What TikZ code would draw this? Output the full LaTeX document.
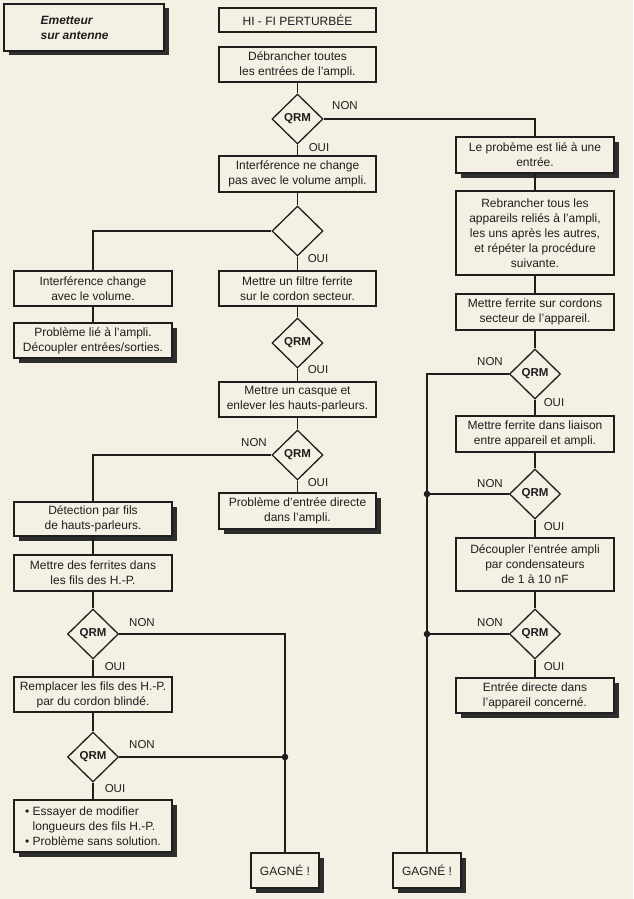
\documentclass[tikz,border=0pt]{standalone}
\usepackage{fontspec}
\setmainfont[Ligatures=TeX]{Liberation Sans}
\usetikzlibrary{shapes.geometric,shadows}
\definecolor{bg}{HTML}{F4F1E4}
\definecolor{ink}{HTML}{1E1E1E}
\definecolor{shd}{HTML}{2E2E2E}
\begin{document}
\begin{tikzpicture}[x=1pt,y=-1pt,line width=1.3pt,
  box/.style={draw=ink, fill=bg, line width=1.3pt, inner sep=0pt, align=center,
    font=\fontsize{12}{15}\selectfont, text=ink},
  mainbox/.style={box, minimum width=157pt},
  sidebox/.style={box, minimum width=158pt},
  shad/.style={drop shadow={shadow xshift=4.5pt, shadow yshift=-4.5pt, fill=shd, opacity=1}},
  dia/.style={diamond, draw=ink, fill=bg, line width=1.3pt, minimum width=51pt,
    minimum height=50pt, inner sep=0pt, text=ink, font=\bfseries\fontsize{11.5}{13}\selectfont},
  lbl/.style={font=\fontsize{11.5}{13}\selectfont, text=ink, inner sep=0pt},
  dot/.style={circle, fill=ink, inner sep=0pt, minimum size=6.6pt}]
\fill[bg] (0,0) rectangle (633,899);
\useasboundingbox (0,0) rectangle (633,899);

% title box
\node[box, shad, minimum width=160pt, minimum height=47pt] (emet) at (84,27.5) {};
\node[anchor=west, align=left, inner sep=0pt, text=ink,
  font=\bfseries\itshape\fontsize{12}{15}\selectfont] (emett) at (40,28)
  {Emetteur\\sur antenne};

% main column
\node[mainbox, minimum height=24pt] (hifi) at (297.5,20) {HI - FI PERTURBÉE};
\node[mainbox, minimum height=35pt] (debr) at (297.5,64.5) {Débrancher toutes\\les entrées de l'ampli.};
\node[dia] (q1) at (297.5,119) {QRM};
\node[mainbox, minimum height=36pt] (interf1) at (297.5,174) {Interférence ne change\\pas avec le volume ampli.};
\node[dia] (d2) at (297.5,231) {};
\node[mainbox, minimum height=35pt] (filtre) at (297.5,288.5) {Mettre un filtre ferrite\\sur le cordon secteur.};
\node[dia] (q3) at (297.5,343) {QRM};
\node[mainbox, minimum height=35pt] (casque) at (297.5,399.5) {Mettre un casque et\\enlever les hauts-parleurs.};
\node[dia] (q4) at (297.5,455) {QRM};
\node[mainbox, shad, minimum height=36pt] (probd) at (297.5,511) {Problème d'entrée directe\\dans l'ampli.};

% left column
\node[sidebox, minimum height=35pt] (interf2) at (93,288.5) {Interférence change\\avec le volume.};
\node[sidebox, shad, minimum height=35pt] (prob1) at (93,340.5) {Problème lié à l'ampli.\\Découpler entrées/sorties.};
\node[sidebox, shad, minimum height=34pt] (detect) at (93,519) {Détection par fils\\de hauts-parleurs.};
\node[sidebox, minimum height=36pt] (ferr) at (93,573) {Mettre des ferrites dans\\les fils des H.-P.};
\node[dia] (q5) at (93,634) {QRM};
\node[sidebox, minimum height=35pt] (rempl) at (93,694.5) {Remplacer les fils des H.-P.\\par du cordon blindé.};
\node[dia] (q6) at (93,757) {QRM};
\node[sidebox, shad, minimum height=52pt, align=left] (bullet) at (93,826)
  {\textbullet\ Essayer de modifier\\\phantom{\textbullet\ }longueurs des fils H.-P.\\\textbullet\ Problème sans solution.};
\node[box, shad, minimum width=68pt, minimum height=35pt] (g1) at (285,870.5) {GAGNÉ !};
\node[box, shad, minimum width=68pt, minimum height=35pt] (g2) at (427,870.5) {GAGNÉ !};

% right column
\node[sidebox, shad, minimum height=36pt] (leprob) at (535,155) {Le probème est lié à une\\entrée.};
\node[sidebox, minimum height=84pt] (rebr) at (535,233) {Rebrancher tous les\\appareils reliés à l'ampli,\\les uns après les autres,\\et répéter la procédure\\suivante.};
\node[sidebox, minimum height=36pt] (cordons) at (535,312) {Mettre ferrite sur cordons\\secteur de l'appareil.};
\node[dia] (r1) at (535,374) {QRM};
\node[sidebox, minimum height=36pt] (liaison) at (535,434) {Mettre ferrite dans liaison\\entre appareil et ampli.};
\node[dia] (r2) at (535,494) {QRM};
\node[sidebox, minimum height=53pt] (decoup) at (535,564.5) {Découpler l'entrée ampli\\par condensateurs\\de 1 à 10 nF};
\node[dia] (r3) at (535,634) {QRM};
\node[sidebox, shad, minimum height=35pt] (entree) at (535,695.5) {Entrée directe dans\\l'appareil concerné.};

% junctions
\coordinate (j1) at (285,757);
\coordinate (j2) at (427,494);
\coordinate (j3) at (427,634);

% connectors
\draw[ink] (debr) -- (q1);
\draw[ink] (q1) -- (interf1);
\draw[ink] (q1.east) -| (leprob.north);
\draw[ink] (interf1) -- (d2);
\draw[ink] (d2.west) -| (interf2.north);
\draw[ink] (interf2) -- (prob1);
\draw[ink] (d2) -- (filtre);
\draw[ink] (filtre) -- (q3);
\draw[ink] (q3) -- (casque);
\draw[ink] (casque) -- (q4);
\draw[ink] (q4) -- (probd);
\draw[ink] (q4.west) -| (detect.north);
\draw[ink] (detect) -- (ferr);
\draw[ink] (ferr) -- (q5);
\draw[ink] (q5) -- (rempl);
\draw[ink] (rempl) -- (q6);
\draw[ink] (q6) -- (bullet);
\draw[ink] (q5.east) -| (g1.north);
\draw[ink] (q6.east) -- (j1);
\draw[ink] (leprob) -- (rebr);
\draw[ink] (rebr) -- (cordons);
\draw[ink] (cordons) -- (r1);
\draw[ink] (r1) -- (liaison);
\draw[ink] (liaison) -- (r2);
\draw[ink] (r2) -- (decoup);
\draw[ink] (decoup) -- (r3);
\draw[ink] (r3) -- (entree);
\draw[ink] (r1.west) -| (g2.north);
\draw[ink] (r2.west) -- (j2);
\draw[ink] (r3.west) -- (j3);
\node[dot] (dj1) at (j1) {};
\node[dot] (dj2) at (j2) {};
\node[dot] (dj3) at (j3) {};

% labels
\node[lbl] (l1n) at (345,106) {NON};
\node[lbl] (l1o) at (319,148) {OUI};
\node[lbl] (l2o) at (318,259) {OUI};
\node[lbl] (l3o) at (318,370) {OUI};
\node[lbl] (l4n) at (254,443) {NON};
\node[lbl] (l4o) at (318,483) {OUI};
\node[lbl] (l5n) at (142,623) {NON};
\node[lbl] (l5o) at (115,667) {OUI};
\node[lbl] (l6n) at (142,745) {NON};
\node[lbl] (l6o) at (115,789) {OUI};
\node[lbl] (r1n) at (490,362) {NON};
\node[lbl] (r1o) at (554,403) {OUI};
\node[lbl] (r2n) at (490,484) {NON};
\node[lbl] (r2o) at (554,527) {OUI};
\node[lbl] (r3n) at (490,623) {NON};
\node[lbl] (r3o) at (554,667) {OUI};
\end{tikzpicture}
\end{document}
